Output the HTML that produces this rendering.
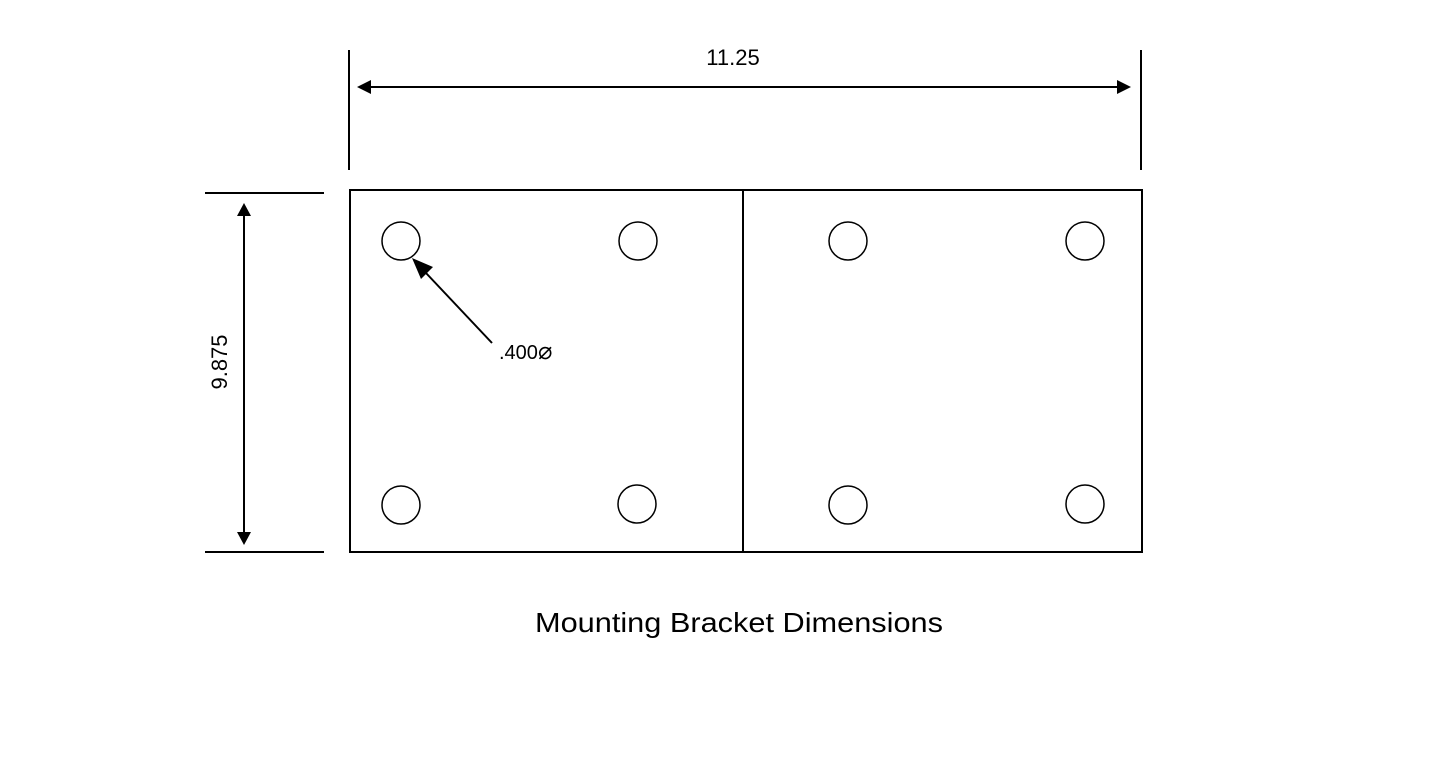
<!DOCTYPE html>
<html><head><style>body{margin:0;background:#fff}</style></head><body>
<svg width="1445" height="772" viewBox="0 0 1445 772" xmlns="http://www.w3.org/2000/svg" font-family="Liberation Sans, sans-serif">
<g stroke="#000" stroke-width="2" fill="none">
<line x1="349" y1="50" x2="349" y2="170"/>
<line x1="1141" y1="50" x2="1141" y2="170"/>
<line x1="370" y1="87" x2="1120" y2="87"/>
<line x1="205" y1="193" x2="324" y2="193"/>
<line x1="205" y1="552" x2="324" y2="552"/>
<line x1="244" y1="214" x2="244" y2="534"/>
<rect x="350" y="190" width="792" height="362"/>
<line x1="743" y1="190" x2="743" y2="552"/>
<line x1="492" y1="343" x2="426" y2="273"/>
</g>
<g stroke="#000" stroke-width="1.5" fill="none">
<circle cx="401" cy="241" r="19"/><circle cx="638" cy="241" r="19"/>
<circle cx="848" cy="241" r="19"/><circle cx="1085" cy="241" r="19"/>
<circle cx="401" cy="505" r="19"/><circle cx="637" cy="504" r="19"/>
<circle cx="848" cy="505" r="19"/><circle cx="1085" cy="504" r="19"/>
</g>
<g fill="#000">
<polygon points="357,87 371,80 371,94"/>
<polygon points="1131,87 1117,80 1117,94"/>
<polygon points="244,203 237,216 251,216"/>
<polygon points="244,545 237,532 251,532"/>
<polygon points="412,258 433,267 421,279"/>
</g>
<text x="733" y="65" font-size="22" text-anchor="middle">11.25</text>
<text transform="translate(227,362) rotate(-90)" font-size="22" text-anchor="middle">9.875</text>
<text x="499" y="359" font-size="20">.400<tspan font-size="24">⌀</tspan></text>
<text x="535" y="632" font-size="28" textLength="408" lengthAdjust="spacingAndGlyphs">Mounting Bracket Dimensions</text>
</svg>
</body></html>
